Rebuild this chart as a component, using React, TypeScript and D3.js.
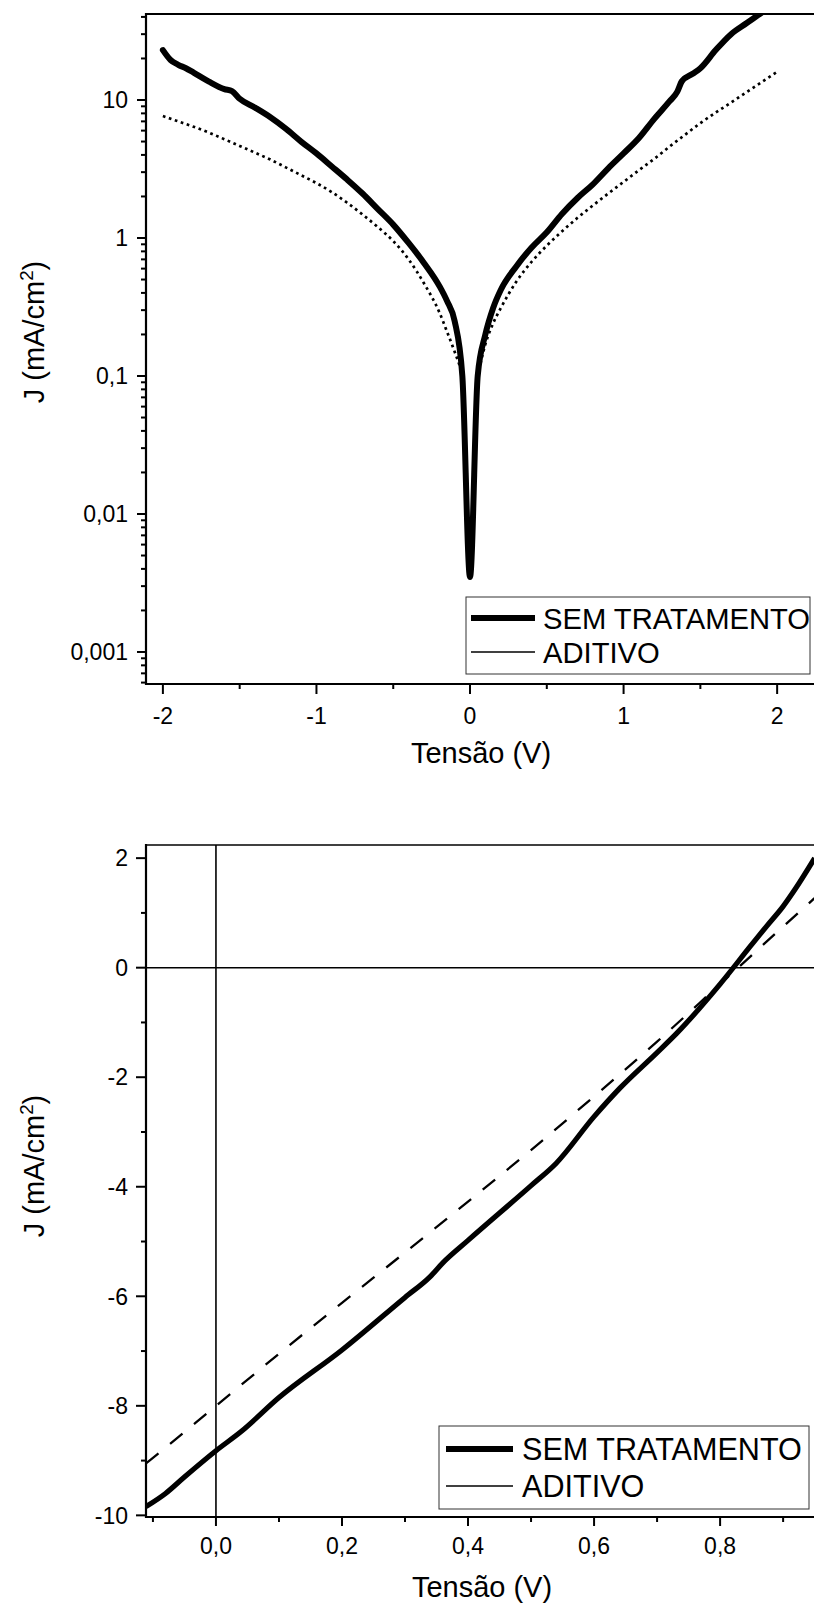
import React from 'react';
import * as d3 from 'd3';

const FONT = '"Liberation Sans", Arial, Helvetica, sans-serif';
const TICK_FONT = 23;

// ---------- Dark J–V curves (log scale, |J| in mA/cm²) ----------
const darkVoltageSem = [
  -2.0, -1.95, -1.9, -1.85, -1.8, -1.7, -1.6, -1.55, -1.5, -1.4, -1.3, -1.2, -1.1, -1.0,
  -0.9, -0.8, -0.7, -0.6, -0.5, -0.4, -0.3, -0.2, -0.15, -0.1, -0.05, 0.0, 0.05, 0.1,
  0.15, 0.2, 0.3, 0.4, 0.5, 0.6, 0.7, 0.8, 0.9, 1.0, 1.1, 1.2, 1.3, 1.35, 1.38, 1.45,
  1.5, 1.6, 1.7, 1.8, 1.9, 2.0,
];
const darkSemTratamento = [
  23, 19.5, 18, 17, 15.8, 13.6, 12, 11.6, 10.2, 8.8, 7.5, 6.2, 5.0, 4.1,
  3.3, 2.65, 2.1, 1.62, 1.25, 0.92, 0.66, 0.45, 0.35, 0.25, 0.1, 0.0035, 0.1, 0.2,
  0.31, 0.42, 0.62, 0.85, 1.1, 1.5, 1.95, 2.45, 3.2, 4.1, 5.3, 7.3, 9.8, 11.5, 13.7, 15.5,
  17, 23, 30, 36, 43, 52,
];

const darkVoltageAditivo = [
  -2.0, -1.9, -1.8, -1.7, -1.6, -1.5, -1.4, -1.3, -1.2, -1.1, -1.0, -0.9, -0.8, -0.7,
  -0.6, -0.5, -0.4, -0.3, -0.2, -0.15, -0.1, -0.05, 0.0, 0.05, 0.1, 0.15, 0.2, 0.3, 0.4,
  0.5, 0.6, 0.7, 0.8, 0.9, 1.0, 1.1, 1.2, 1.3, 1.4, 1.5, 1.6, 1.7, 1.8, 1.9, 2.0,
];
const darkAditivo = [
  7.65, 7.0, 6.4, 5.8, 5.2, 4.65, 4.15, 3.7, 3.25, 2.85, 2.5, 2.15, 1.8, 1.48,
  1.2, 0.95, 0.7, 0.47, 0.29, 0.21, 0.15, 0.105, 0, 0.1, 0.17, 0.24, 0.31, 0.48, 0.67,
  0.88, 1.12, 1.4, 1.72, 2.1, 2.55, 3.1, 3.75, 4.6, 5.6, 6.8, 8.1, 9.6, 11.4, 13.5, 16,
];

// ---------- Illuminated J–V curves (linear scale) ----------
const lightVoltageSem = [
  -0.111, -0.08, -0.05, 0.0, 0.04, 0.1, 0.2, 0.3, 0.34, 0.36, 0.4, 0.5, 0.54, 0.6,
  0.641, 0.7, 0.731, 0.8, 0.85, 0.874, 0.9, 0.92, 0.95,
];
const lightSem = [
  -9.84, -9.6, -9.3, -8.82, -8.47, -7.85, -6.98, -6.02, -5.64, -5.39, -4.98, -3.98, -3.57, -2.72,
  -2.2, -1.55, -1.2, -0.3, 0.42, 0.76, 1.12, 1.45, 2.0,
];

const lightVoltageAditivo = [-0.111, -0.1, 0.0, 0.1, 0.2, 0.3, 0.4, 0.5, 0.6, 0.7, 0.8, 0.9, 0.95];
const lightAditivo = [-9.05, -8.95, -8.0, -7.05, -6.12, -5.2, -4.27, -3.33, -2.35, -1.35, -0.3, 0.75, 1.27];

// ---------- Ticks and labels ----------
const logTickValues = [0.001, 0.01, 0.1, 1, 10];
const logTickLabels = ['0,001', '0,01', '0,1', '1', '10'];
const darkXTickValues = [-2, -1, 0, 1, 2];
const darkXMinorValues = [-1.5, -0.5, 0.5, 1.5];
const lightXTickValues = [0, 0.2, 0.4, 0.6, 0.8];
const lightXTickLabels = ['0,0', '0,2', '0,4', '0,6', '0,8'];
const lightXMinorValues = [-0.1, 0.1, 0.3, 0.5, 0.7, 0.9];
const lightYTickValues = [2, 0, -2, -4, -6, -8, -10];
const lightYMinorValues = [1, -1, -3, -5, -7, -9];

const seriesNames = ['SEM TRATAMENTO', 'ADITIVO'];
const xTitle = 'Tensão (V)';

type Pt = [number, number];
const zip = (xs: number[], ys: number[]): Pt[] => xs.map((x, i) => [x, ys[i]]);

function YTitle({ x, y, size }: { x: number; y: number; size: number }) {
  return (
    <text
      transform={`translate(${x},${y}) rotate(-90)`}
      textAnchor="middle"
      fontFamily={FONT}
      fontSize={size}
      fill="#000"
    >
      J (mA/cm
      <tspan fontSize={size * 0.65} dy={-size * 0.38}>2</tspan>
      <tspan dy={size * 0.38}>)</tspan>
    </text>
  );
}

function Legend({
  x, y, w, h, fontSize, lineX1, lineX2, textX, row1, row2, thick,
}: {
  x: number; y: number; w: number; h: number; fontSize: number;
  lineX1: number; lineX2: number; textX: number; row1: number; row2: number; thick: number;
}) {
  return (
    <g>
      <rect x={x} y={y} width={w} height={h} fill="#fff" stroke="#333" strokeWidth={1} />
      <line x1={lineX1} x2={lineX2} y1={row1} y2={row1} stroke="#000" strokeWidth={thick} />
      <line x1={lineX1} x2={lineX2} y1={row2} y2={row2} stroke="#000" strokeWidth={1.6} />
      <text x={textX} y={row1} dy="0.36em" fontFamily={FONT} fontSize={fontSize} fill="#000">
        {seriesNames[0]}
      </text>
      <text x={textX} y={row2} dy="0.36em" fontFamily={FONT} fontSize={fontSize} fill="#000">
        {seriesNames[1]}
      </text>
    </g>
  );
}

function DarkChart() {
  const left = 146, right = 814, top = 14, bottom = 684;
  const x = d3.scaleLinear().domain([-2.11, 2.24]).range([left, right]);
  const y = d3.scaleLog().domain([0.000586, 42]).range([bottom, top]);

  const line = d3
    .line<Pt>()
    .defined((d) => d[1] > 0)
    .x((d) => x(d[0]))
    .y((d) => y(d[1]))
    .curve(d3.curveMonotoneX);

  const minor: number[] = [];
  for (let e = -4; e <= 1; e++) {
    for (let k = 2; k <= 9; k++) {
      const v = k * Math.pow(10, e);
      if (v >= y.domain()[0] && v <= y.domain()[1]) minor.push(v);
    }
  }

  const semPath = line(zip(darkVoltageSem, darkSemTratamento)) || '';
  const adPath = line(zip(darkVoltageAditivo, darkAditivo)) || '';

  return (
    <g>
      <defs>
        <clipPath id="clipDark">
          <rect x={left} y={top} width={right - left} height={bottom - top} />
        </clipPath>
      </defs>
      <g clipPath="url(#clipDark)">
        <path d={adPath} fill="none" stroke="#000" strokeWidth={2.7} strokeDasharray="2.7,3.6" />
        <path d={semPath} fill="none" stroke="#000" strokeWidth={6} strokeLinejoin="round" strokeLinecap="round" />
      </g>

      {/* frame */}
      <line x1={left} x2={right} y1={top} y2={top} stroke="#000" strokeWidth={2} />
      <line x1={left} x2={left} y1={top - 1} y2={bottom + 1} stroke="#000" strokeWidth={2.2} />
      <line x1={left - 1} x2={right} y1={bottom} y2={bottom} stroke="#000" strokeWidth={2.2} />

      {/* y ticks */}
      {logTickValues.map((v, i) => (
        <g key={`ly${i}`}>
          <line x1={left - 9} x2={left} y1={y(v)} y2={y(v)} stroke="#000" strokeWidth={2} />
          <text x={left - 18} y={y(v)} dy="0.36em" textAnchor="end" fontFamily={FONT} fontSize={TICK_FONT} fill="#000">
            {logTickLabels[i]}
          </text>
        </g>
      ))}
      {minor.map((v, i) => (
        <line key={`lm${i}`} x1={left - 5} x2={left} y1={y(v)} y2={y(v)} stroke="#000" strokeWidth={2} />
      ))}

      {/* x ticks */}
      {darkXTickValues.map((v) => (
        <g key={`dx${v}`}>
          <line x1={x(v)} x2={x(v)} y1={bottom} y2={bottom + 10} stroke="#000" strokeWidth={2} />
          <text x={x(v)} y={bottom + 40} textAnchor="middle" fontFamily={FONT} fontSize={TICK_FONT} fill="#000">
            {String(v)}
          </text>
        </g>
      ))}
      {darkXMinorValues.map((v) => (
        <line key={`dm${v}`} x1={x(v)} x2={x(v)} y1={bottom} y2={bottom + 5} stroke="#000" strokeWidth={2} />
      ))}

      <text x={481} y={763} textAnchor="middle" fontFamily={FONT} fontSize={29} fill="#000">
        {xTitle}
      </text>
      <YTitle x={44} y={332} size={29} />

      <Legend
        x={466} y={597} w={344} h={77} fontSize={29.2}
        lineX1={471} lineX2={535} textX={543} row1={618} row2={652} thick={6}
      />
    </g>
  );
}

function LightChart() {
  const left = 146, right = 814, top = 845, bottom = 1517;
  const x = d3.scaleLinear().domain([-0.111, 0.949]).range([left, right]);
  const y = d3.scaleLinear().domain([-10.03, 2.24]).range([bottom, top]);

  const line = d3
    .line<Pt>()
    .x((d) => x(d[0]))
    .y((d) => y(d[1]))
    .curve(d3.curveMonotoneX);

  const semPath = line(zip(lightVoltageSem, lightSem)) || '';
  const adPath = line(zip(lightVoltageAditivo, lightAditivo)) || '';

  return (
    <g>
      <defs>
        <clipPath id="clipLight">
          <rect x={left} y={top} width={right - left} height={bottom - top} />
        </clipPath>
      </defs>

      {/* zero reference lines */}
      <line x1={left} x2={right} y1={y(0)} y2={y(0)} stroke="#000" strokeWidth={1.6} />
      <line x1={x(0)} x2={x(0)} y1={top} y2={bottom} stroke="#000" strokeWidth={1.6} />

      <g clipPath="url(#clipLight)">
        <path d={adPath} fill="none" stroke="#000" strokeWidth={2.3} strokeDasharray="16,15" />
        <path d={semPath} fill="none" stroke="#000" strokeWidth={5.2} strokeLinejoin="round" />
      </g>

      {/* frame */}
      <line x1={left} x2={right} y1={top} y2={top} stroke="#000" strokeWidth={1.6} />
      <line x1={left} x2={left} y1={top - 1} y2={bottom + 1} stroke="#000" strokeWidth={2.2} />
      <line x1={left - 1} x2={right} y1={bottom} y2={bottom} stroke="#000" strokeWidth={2.2} />

      {/* y ticks */}
      {lightYTickValues.map((v) => (
        <g key={`ty${v}`}>
          <line x1={left - 10} x2={left} y1={y(v)} y2={y(v)} stroke="#000" strokeWidth={2} />
          <text x={left - 18} y={y(v)} dy="0.36em" textAnchor="end" fontFamily={FONT} fontSize={TICK_FONT} fill="#000">
            {String(v)}
          </text>
        </g>
      ))}
      {lightYMinorValues.map((v) => (
        <line key={`tym${v}`} x1={left - 5} x2={left} y1={y(v)} y2={y(v)} stroke="#000" strokeWidth={2} />
      ))}

      {/* x ticks */}
      {lightXTickValues.map((v, i) => (
        <g key={`tx${v}`}>
          <line x1={x(v)} x2={x(v)} y1={bottom} y2={bottom + 9} stroke="#000" strokeWidth={2} />
          <text x={x(v)} y={bottom + 37} textAnchor="middle" fontFamily={FONT} fontSize={TICK_FONT} fill="#000">
            {lightXTickLabels[i]}
          </text>
        </g>
      ))}
      {lightXMinorValues.map((v) => (
        <line key={`txm${v}`} x1={x(v)} x2={x(v)} y1={bottom} y2={bottom + 5} stroke="#000" strokeWidth={2} />
      ))}

      <text x={482} y={1597} textAnchor="middle" fontFamily={FONT} fontSize={29} fill="#000">
        {xTitle}
      </text>
      <YTitle x={44} y={1166} size={29} />

      <Legend
        x={439} y={1426} w={370} h={83} fontSize={30.6}
        lineX1={446} lineX2={513} textX={522} row1={1449} row2={1486} thick={6}
      />
    </g>
  );
}

export default function App() {
  return (
    <svg
      width={814}
      height={1604}
      viewBox="0 0 814 1604"
      style={{ position: 'absolute', left: 0, top: 0, display: 'block', background: '#fff' }}
    >
      <rect x={0} y={0} width={814} height={1604} fill="#fff" />
      <DarkChart />
      <LightChart />
    </svg>
  );
}
